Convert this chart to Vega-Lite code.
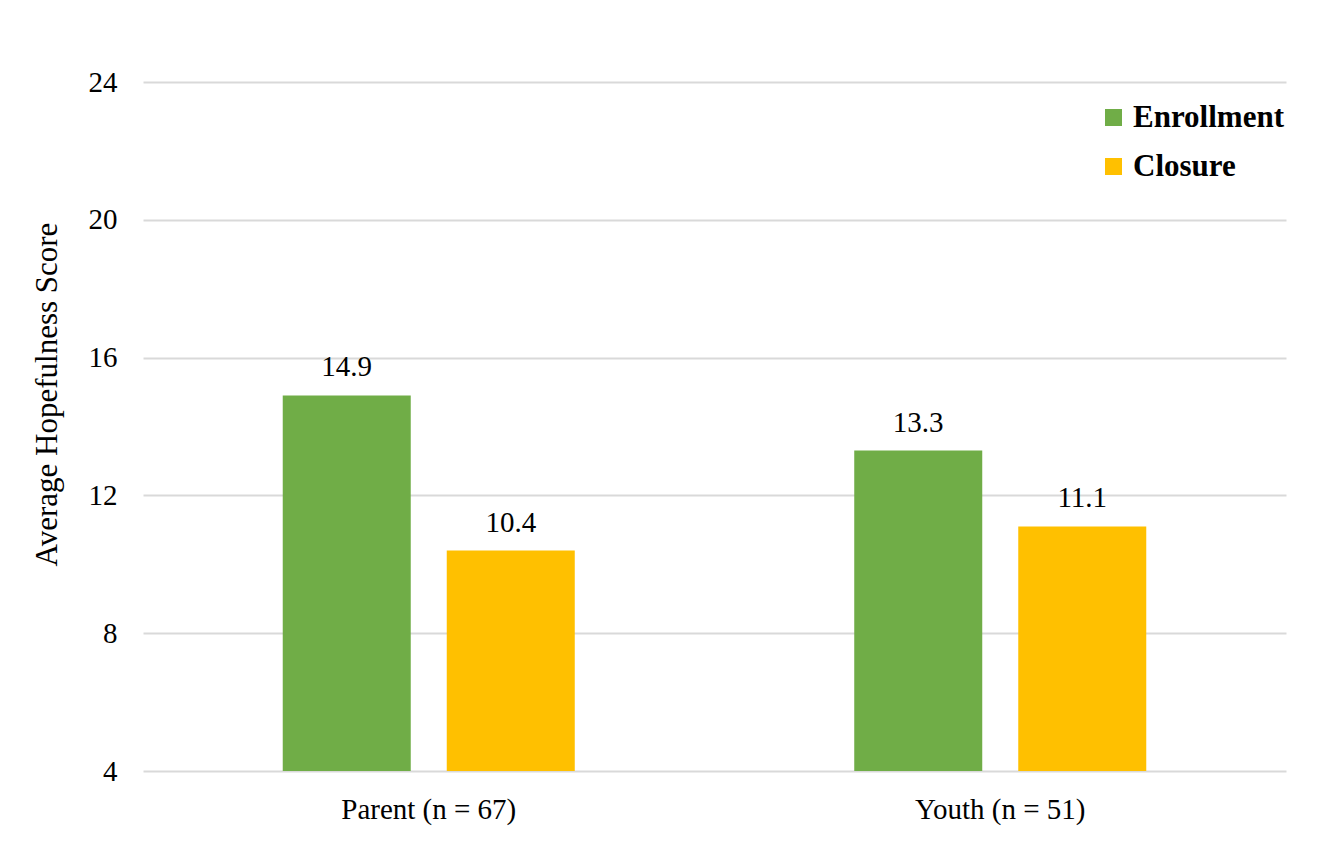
{
  "$schema": "https://vega.github.io/schema/vega-lite/v6.json",
  "autosize": {"type": "none"},
  "width": 1143,
  "height": 689,
  "padding": {"left": 143, "top": 82, "right": 52, "bottom": 86},
  "background": "white",
  "config": {
    "font": "Liberation Serif",
    "view": {"stroke": null},
    "axis": {
      "labelFont": "Liberation Serif",
      "labelFontSize": 29,
      "labelColor": "#000000",
      "titleFont": "Liberation Serif",
      "titleFontSize": 31,
      "titleFontWeight": "normal",
      "titleColor": "#000000"
    }
  },
  "data": {
    "values": [
      {"group": "Parent (n = 67)", "phase": "Enrollment", "value": 14.9},
      {"group": "Parent (n = 67)", "phase": "Closure", "value": 10.4},
      {"group": "Youth (n = 51)", "phase": "Enrollment", "value": 13.3},
      {"group": "Youth (n = 51)", "phase": "Closure", "value": 11.1}
    ]
  },
  "encoding": {
    "x": {
      "field": "group",
      "type": "nominal",
      "sort": ["Parent (n = 67)", "Youth (n = 51)"],
      "scale": {"paddingInner": 0, "paddingOuter": 0},
      "axis": {
        "title": null,
        "labelAngle": 0,
        "ticks": false,
        "domain": false,
        "grid": false,
        "labelPadding": 24
      }
    },
    "xOffset": {
      "field": "phase",
      "type": "nominal",
      "sort": ["Enrollment", "Closure"],
      "scale": {"paddingInner": 0.2195, "paddingOuter": 0.852}
    }
  },
  "layer": [
    {
      "mark": {"type": "bar"},
      "encoding": {
        "y": {
          "field": "value",
          "type": "quantitative",
          "scale": {"domain": [4, 24], "nice": false, "zero": false},
          "axis": {
            "title": "Average Hopefulness Score",
            "values": [4, 8, 12, 16, 20, 24],
            "grid": true,
            "gridColor": "#d9d9d9",
            "gridWidth": 2,
            "domain": false,
            "ticks": false,
            "labelPadding": 26,
            "titlePadding": 25,
            "titleY": 312
          }
        },
        "y2": {"datum": 4},
        "color": {
          "field": "phase",
          "type": "nominal",
          "scale": {"domain": ["Enrollment", "Closure"], "range": ["#70AD47", "#FFC000"]},
          "legend": {
            "title": null,
            "orient": "none",
            "legendX": 955,
            "legendY": 20,
            "symbolType": "square",
            "symbolSize": 289,
            "symbolStrokeWidth": 0,
            "symbolOpacity": 1,
            "labelFont": "Liberation Serif",
            "labelFontSize": 31,
            "labelFontWeight": "bold",
            "labelColor": "#000000",
            "labelOffset": 4,
            "rowPadding": 17
          }
        }
      }
    },
    {
      "mark": {"type": "text", "baseline": "alphabetic", "align": "center", "dy": -19, "fontSize": 29, "font": "Liberation Serif", "color": "#000000"},
      "encoding": {
        "y": {"field": "value", "type": "quantitative"},
        "text": {"field": "value", "type": "quantitative", "format": ".1f"}
      }
    }
  ]
}
